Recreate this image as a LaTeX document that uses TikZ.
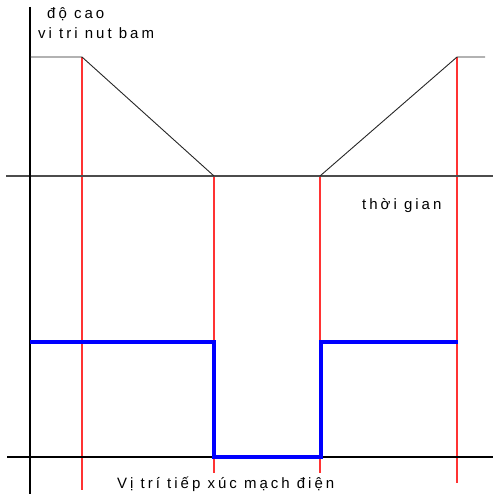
\documentclass[tikz,border=0pt]{standalone}
\usepackage{fontspec}
\setmainfont{Liberation Sans}[LetterSpace=20]
\usepackage{tikz}
\usetikzlibrary{positioning}

\begin{document}
\begin{tikzpicture}[x=1pt, y=-1pt, font=\fontsize{15}{18}\selectfont,
        axis/.style={draw=black!70, line width=1.3pt},
        guide/.style={draw=red!80, line width=1.2pt},
        press/.style={draw=black!85, line width=0.9pt},
        contact/.style={draw=blue, line width=3.5pt, line join=miter},
        lbl/.style={anchor=base west, inner sep=0pt}]
            \useasboundingbox (0,0) rectangle (493,494);
            % axes
            \coordinate (o1) at (30,7);
            \coordinate (o2) at (30,494);
            \coordinate (t1) at (6,176);
            \coordinate (t2) at (493,176);
            \coordinate (b1) at (7,457);
            \coordinate (b2) at (493,457);
            % button height
            \coordinate (h0) at (30,57);
            \coordinate (h1) at (82,57);
            \coordinate (h2) at (214,176);
            \coordinate (h3) at (320,176);
            \coordinate (h4) at (457,57);
            \coordinate (h5) at (485,57);
            % contact signal
            \coordinate (c0) at (30,342);
            \coordinate (c1) at (214,342);
            \coordinate (c2) at (214,457);
            \coordinate (c3) at (321,457);
            \coordinate (c4) at (321,342);
            \coordinate (c5) at (458,342);
            % guide ends
            \coordinate (r1) at (82,490);
            \coordinate (r2) at (214,473);
            \coordinate (r3) at (320,473);
            \coordinate (r4) at (457,483);

            \node[lbl] (docao) at (47,19) {độ cao};
            \node[lbl] (vitri) at (38,39) {vi tri nut bam};
            \node[lbl] (tg) at (362,209) {thời gian};
            \node[lbl] (tiepxuc) at (117,488) {Vị trí tiếp xúc mạch điện};

            \draw[guide] (h1) -- (r1);
            \draw[guide] (h2) -- (r2);
            \draw[guide] (h3) -- (r3);
            \draw[guide] (h4) -- (r4);

            \draw[axis] (t1) -- (t2);
            \draw[black, line width=1.1pt] (o1) -- (o2);
            \draw[black, line width=1.1pt] (b1) -- (b2);

            \draw[press] (h0) -- (h1) -- (h2);
            \draw[press] (h3) -- (h4) -- (h5);

            \draw[contact] (c0) -- (c1) -- (c2) -- (c3) -- (c4) -- (c5);
        \end{tikzpicture}
\end{document}
